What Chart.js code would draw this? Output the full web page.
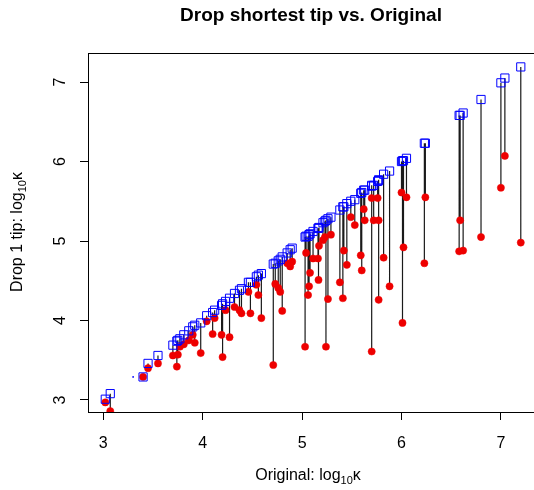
<!DOCTYPE html>
<html>
<head>
<meta charset="utf-8">
<script src="https://cdn.jsdelivr.net/npm/chart.js@4.4.1/dist/chart.umd.min.js"></script>
<style>
  html, body { margin: 0; padding: 0; background: #fff; overflow: hidden; }
</style>
</head>
<body>
<canvas id="plot" width="534" height="490"></canvas>
<script>
// log10 K of the original tree (x) and of the tree with the shortest tip dropped
const original = [
  3.02, 3.07, 3.40, 3.45, 3.55, 3.70, 3.74, 3.75, 3.77, 3.81,
  3.86, 3.90, 3.92, 3.98, 4.04, 4.10, 4.12, 4.19, 4.20, 4.23,
  4.27, 4.32, 4.37, 4.39, 4.46, 4.48, 4.54, 4.56, 4.59, 4.71,
  4.73, 4.76, 4.78, 4.80, 4.85, 4.88, 4.90, 5.03, 5.04, 5.06,
  5.07, 5.08, 5.11, 5.16, 5.165, 5.17, 5.21, 5.23, 5.24, 5.26,
  5.29, 5.38, 5.41, 5.42, 5.45, 5.49, 5.53, 5.59, 5.60, 5.62,
  5.63, 5.70, 5.70, 5.72, 5.76, 5.77, 5.77, 5.82, 5.88, 6.00,
  6.01, 6.02, 6.05, 6.24, 6.23, 6.58, 6.59, 6.62, 6.80, 7.00,
  7.04, 7.20
];
const squareY = [
  3.01, 3.08, 3.29, 3.46, 3.56, 3.69, 3.74, 3.75, 3.77, 3.82,
  3.87, 3.92, 3.94, 3.97, 4.06, 4.10, 4.13, 4.19, 4.21, 4.24,
  4.28, 4.34, 4.38, 4.40, 4.48, 4.48, 4.55, 4.57, 4.59, 4.71,
  4.72, 4.75, 4.77, 4.80, 4.85, 4.89, 4.91, 5.05, 5.06, 5.06,
  5.08, 5.09, 5.12, 5.16, 5.16, 5.17, 5.23, 5.25, 5.26, 5.28,
  5.30, 5.39, 5.43, 5.43, 5.47, 5.50, 5.52, 5.60, 5.61, 5.64,
  5.64, 5.69, 5.70, 5.70, 5.75, 5.76, 5.77, 5.84, 5.88, 6.00,
  6.01, 6.01, 6.04, 6.23, 6.23, 6.58, 6.58, 6.61, 6.78, 6.99,
  7.05, 7.19
];
const dropOne = [
  2.97, 2.86, 3.29, 3.40, 3.46, 3.56, 3.42, 3.57, 3.67, 3.70,
  3.75, 3.82, 3.72, 3.59, 3.99, 3.83, 4.03, 3.82, 3.54, 4.13,
  3.79, 4.17, 4.13, 4.09, 4.36, 4.09, 4.45, 4.32, 4.03, 3.44,
  4.46, 4.41, 4.36, 4.12, 4.72, 4.68, 4.74, 3.67, 4.85, 4.32,
  4.43, 4.60, 4.78, 4.78, 4.51, 4.94, 5.01, 5.05, 3.67, 4.27,
  5.08, 4.48, 4.28, 4.88, 4.70, 5.30, 5.20, 4.82, 4.63, 5.40,
  5.26, 3.61, 5.54, 5.26, 5.54, 5.26, 4.26, 4.79, 4.43, 5.61,
  3.97, 4.92, 5.55, 5.55, 4.72, 4.87, 5.26, 4.88, 5.05, 5.67,
  6.07, 4.98
];
const strayX = [3.30];
const strayY = [3.29];
const tickValues = [3, 4, 5, 6, 7];

const FONT = '"Liberation Sans", Arial, Helvetica, sans-serif';

const squares = original.map((x, i) => ({ x: x, y: squareY[i] }));
const drops = original.map((x, i) => ({ x: x, y: dropOne[i] }));
const stray = strayX.map((x, i) => ({ x: x, y: strayY[i] }));
// one segment per pair, broken by a null point
const segments = [];
original.forEach((x, i) => {
  segments.push({ x: x, y: squareY[i] }, { x: x, y: dropOne[i] }, { x: x, y: null });
});

// draw "text" + subscript + "tail", centred on (cx, cy), rotated by angle
function drawSubLabel(ctx, text, sub, tail, cx, cy, angle) {
  ctx.save();
  ctx.translate(cx, cy);
  ctx.rotate(angle);
  ctx.textBaseline = 'alphabetic';
  ctx.textAlign = 'left';
  ctx.font = '16px ' + FONT;
  const w1 = ctx.measureText(text).width;
  const w3 = ctx.measureText(tail).width;
  ctx.font = '11px ' + FONT;
  const w2 = ctx.measureText(sub).width;
  let x = -(w1 + w2 + w3) / 2;
  const base = 6;
  ctx.font = '16px ' + FONT;
  ctx.fillText(text, x, base);
  x += w1;
  ctx.font = '11px ' + FONT;
  ctx.fillText(sub, x, base + 4);
  x += w2;
  ctx.font = '16px ' + FONT;
  ctx.fillText(tail, x, base);
  ctx.restore();
}

const rStyle = {
  id: 'rStyle',
  afterDraw(chart) {
    const { ctx, chartArea, scales } = chart;
    ctx.save();
    // top of the box
    ctx.strokeStyle = '#000';
    ctx.lineWidth = 1;
    ctx.beginPath();
    ctx.moveTo(chartArea.left, chartArea.top + 0.5);
    ctx.lineTo(chartArea.right, chartArea.top + 0.5);
    ctx.stroke();

    // y tick labels, rotated like R's las = 0
    ctx.fillStyle = '#000';
    ctx.font = '16px ' + FONT;
    ctx.textAlign = 'center';
    ctx.textBaseline = 'middle';
    tickValues.forEach(v => {
      const py = scales.y.getPixelForValue(v);
      ctx.save();
      ctx.translate(61, py);
      ctx.rotate(-Math.PI / 2);
      ctx.fillText(String(v), 0, 0);
      ctx.restore();
    });

    drawSubLabel(ctx, 'Original: log', '10', 'κ', 308, 474, 0);
    drawSubLabel(ctx, 'Drop 1 tip: log', '10', 'κ', 16, 232, -Math.PI / 2);
    ctx.restore();
  }
};

const axisGrid = { drawOnChartArea: false, drawTicks: true, tickLength: 8, color: '#000', lineWidth: 1 };
const setTicks = scale => { scale.ticks = tickValues.map(v => ({ value: v })); };

const ctx = document.getElementById('plot').getContext('2d');
new Chart(ctx, {
  type: 'scatter',
  data: {
    datasets: [
      {
        label: 'Original',
        data: squares,
        pointStyle: 'rect',
        pointRadius: 5.8,
        backgroundColor: 'rgba(0,0,0,0)',
        borderColor: '#0000ff',
        borderWidth: 1,
        order: 0
      },
      {
        label: 'stray',
        data: stray,
        pointRadius: 0.9,
        backgroundColor: '#0000ff',
        borderWidth: 0,
        order: 1
      },
      {
        label: 'Drop 1 tip',
        data: drops,
        pointStyle: 'circle',
        pointRadius: 3.6,
        backgroundColor: '#ee0000',
        borderColor: '#ee0000',
        borderWidth: 0.5,
        order: 2
      },
      {
        label: 'change',
        data: segments,
        showLine: true,
        spanGaps: false,
        borderColor: '#1a1a1a',
        borderWidth: 1.2,
        pointRadius: 0,
        order: 3
      }
    ]
  },
  options: {
    responsive: false,
    animation: false,
    layout: { padding: 0, autoPadding: false },
    plugins: {
      legend: { display: false },
      tooltip: { enabled: false },
      title: {
        display: true,
        text: 'Drop shortest tip vs. Original',
        fullSize: false,
        color: '#000',
        font: { family: FONT, size: 19, weight: 'bold' },
        padding: { top: 4, bottom: 26.2 }
      }
    },
    scales: {
      x: {
        type: 'linear',
        min: 2.846,
        max: 7.333,
        afterBuildTicks: setTicks,
        afterFit: s => { s.height = 78; s.paddingLeft = 0; s.paddingRight = 0; },
        grid: axisGrid,
        border: { display: true, color: '#000', width: 1 },
        ticks: { color: '#000', font: { family: FONT, size: 16 }, padding: 14, maxRotation: 0 }
      },
      y: {
        type: 'linear',
        min: 2.849,
        max: 7.365,
        afterBuildTicks: setTicks,
        afterFit: s => { s.width = 88; s.paddingTop = 0; s.paddingBottom = 0; },
        grid: axisGrid,
        border: { display: true, color: '#000', width: 1 },
        ticks: { display: false }
      }
    }
  },
  plugins: [rStyle]
});
</script>
</body>
</html>
